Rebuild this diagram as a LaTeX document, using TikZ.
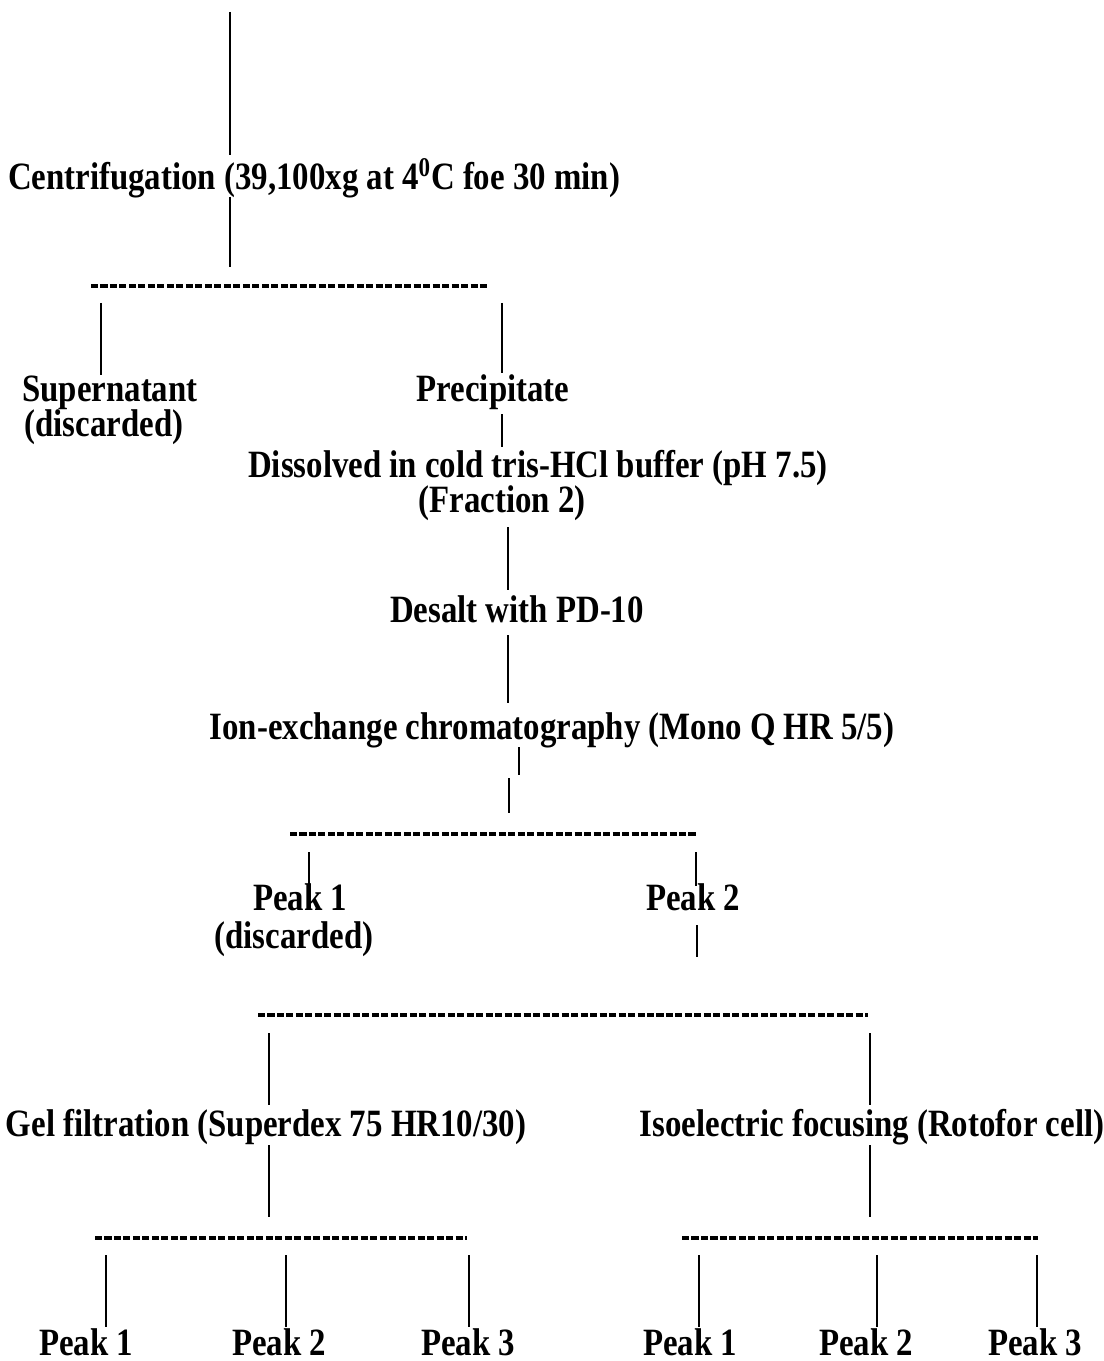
\documentclass[tikz,border=0pt]{standalone}
\usepackage{fontspec}
\setmainfont{Liberation Serif}[FakeStretch=0.85]
\begin{document}
\begin{tikzpicture}[x=0.02cm,y=-0.02cm,
    txt/.style={font=\fontsize{22}{24}\selectfont\bfseries, inner sep=0pt, anchor=base},
    stem/.style={line width=1.4pt},
    split/.style={line width=2.6pt, dash pattern=on 4pt off 1.4pt}]
\useasboundingbox (0,0) rectangle (1103,1361);
% Centrifugation
\coordinate (c0a) at (230,12);
\coordinate (c0b) at (230,155);
\node[txt] (centri) at (314,190) {Centrifugation\ (39,100xg at 4\textsuperscript{0}C foe 30 min)};
\coordinate (c1a) at (230,197);
\coordinate (c1b) at (230,267);
\draw[stem] (c0a) -- (c0b);
\draw[stem] (c1a) -- (c1b);
% Split 1
\coordinate (d1l) at (91,286);
\coordinate (d1r) at (489,286);
\draw[split] (d1l) -- (d1r);
\coordinate (s1a) at (101,303);
\coordinate (s1b) at (101,375);
\coordinate (p1a) at (502,303);
\coordinate (p1b) at (502,373);
\draw[stem] (s1a) -- (s1b);
\draw[stem] (p1a) -- (p1b);
\node[txt] (super) at (110,401) {Supernatant};
\node[txt] (superd) at (104,437) {(discarded)};
\node[txt] (precip) at (493,401) {Precipitate};
\coordinate (p2a) at (502,414);
\coordinate (p2b) at (502,447);
\draw[stem] (p2a) -- (p2b);
% Fraction 2
\node[txt] (dissolv) at (538,477) {Dissolved in cold tris-HCl buffer (pH 7.5)};
\node[txt] (frac) at (502,512) {(Fraction 2)};
\coordinate (f1a) at (508,527);
\coordinate (f1b) at (508,590);
\draw[stem] (f1a) -- (f1b);
\node[txt] (desalt) at (517,622) {Desalt with PD-10};
\coordinate (f2a) at (508,635);
\coordinate (f2b) at (508,703);
\draw[stem] (f2a) -- (f2b);
\node[txt] (ionex) at (552,739) {Ion-exchange chromatography (Mono Q HR 5/5)};
\coordinate (i1a) at (519,747);
\coordinate (i1b) at (519,775);
\coordinate (i2a) at (509,778);
\coordinate (i2b) at (509,813);
\draw[stem] (i1a) -- (i1b);
\draw[stem] (i2a) -- (i2b);
% Split 2
\coordinate (d2l) at (290,834);
\coordinate (d2r) at (696,834);
\draw[split] (d2l) -- (d2r);
\coordinate (k1a) at (309,852);
\coordinate (k1b) at (309,886);
\coordinate (k2a) at (696,852);
\coordinate (k2b) at (696,886);
\draw[stem] (k1a) -- (k1b);
\draw[stem] (k2a) -- (k2b);
\node[txt] (ipeak1) at (300,910) {Peak 1};
\node[txt] (ipeak1d) at (294,948) {(discarded)};
\node[txt] (ipeak2) at (693,910) {Peak 2};
\coordinate (k3a) at (697,925);
\coordinate (k3b) at (697,957);
\draw[stem] (k3a) -- (k3b);
% Split 3
\coordinate (d3l) at (258,1015);
\coordinate (d3r) at (868,1015);
\draw[split] (d3l) -- (d3r);
\coordinate (g1a) at (269,1033);
\coordinate (g1b) at (269,1105);
\coordinate (e1a) at (870,1033);
\coordinate (e1b) at (870,1105);
\draw[stem] (g1a) -- (g1b);
\draw[stem] (e1a) -- (e1b);
\node[txt] (gelf) at (266,1136) {Gel filtration (Superdex 75 HR10/30)};
\node[txt] (isoel) at (872,1136) {Isoelectric focusing (Rotofor cell)};
\coordinate (g2a) at (269,1145);
\coordinate (g2b) at (269,1217);
\coordinate (e2a) at (870,1145);
\coordinate (e2b) at (870,1217);
\draw[stem] (g2a) -- (g2b);
\draw[stem] (e2a) -- (e2b);
% Split 4 and 5
\coordinate (d4l) at (95,1238);
\coordinate (d4r) at (467,1238);
\coordinate (d5l) at (682,1238);
\coordinate (d5r) at (1038,1238);
\draw[split] (d4l) -- (d4r);
\draw[split] (d5l) -- (d5r);
\foreach \x in {106,286,469,699,877,1037} {
    \coordinate (t\x) at (\x,1255);
    \coordinate (b\x) at (\x,1327);
    \draw[stem] (t\x) -- (b\x);
}
\foreach \x/\n [count=\i] in {86/1,279/2,468/3} {
    \node[txt] (gpeak\i) at (\x,1355) {Peak \n};
}
\foreach \x/\n [count=\i] in {690/1,866/2,1035/3} {
    \node[txt] (epeak\i) at (\x,1355) {Peak \n};
}
\end{tikzpicture}
\end{document}
